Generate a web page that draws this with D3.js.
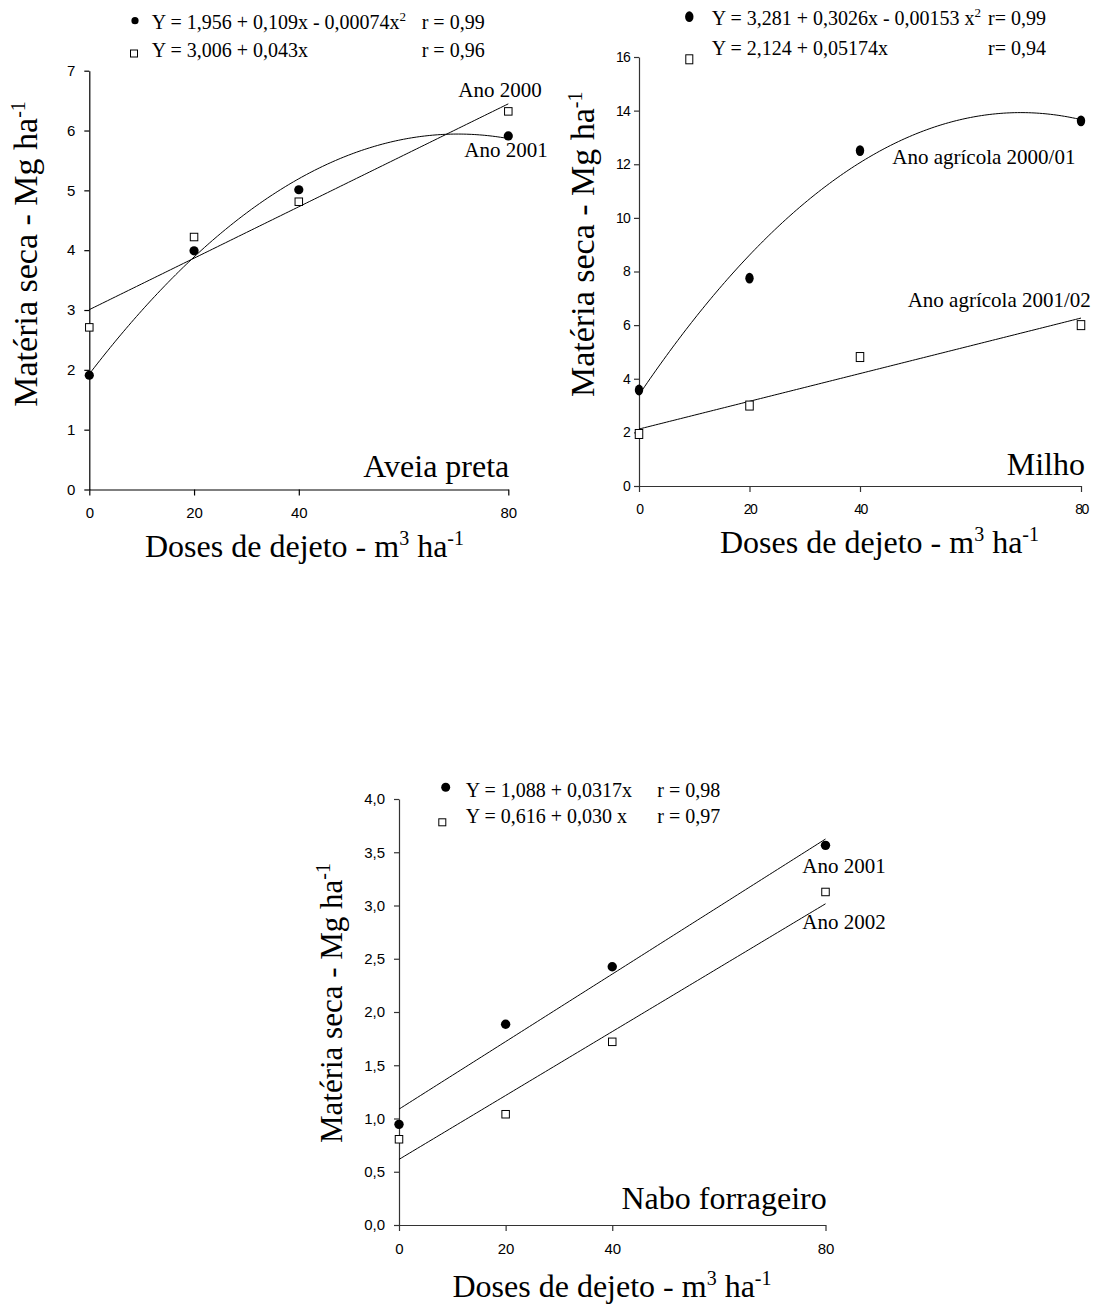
<!DOCTYPE html>
<html><head><meta charset="utf-8">
<script src="https://cdn.jsdelivr.net/npm/d3@7"></script>
<style>
body{margin:0;background:#fff;}
svg text{font-family:"Liberation Serif","Times New Roman",serif;fill:#000;}
svg .tick text{font-family:"Liberation Sans",Arial,sans-serif;}
</style></head>
<body><svg id="c" width="1101" height="1313"></svg>
<script>
// ---------- DATA ----------
const doses = [0, 20, 40, 80];
const xTickValues = [0, 20, 40, 80];

// Aveia preta
const aveiaAno2001 = [1.91, 3.99, 5.01, 5.91];   // filled circles
const aveiaAno2000 = [2.71, 4.22, 4.81, 6.32];   // open squares
const aveiaCurveCoef = [1.93, 0.114, -0.00081];  // drawn quadratic (Ano 2001)
const aveiaLineCoef = [3.006, 0.043];            // Ano 2000
const aveiaYTicks = [0, 1, 2, 3, 4, 5, 6, 7];

// Milho
const milho2000_01 = [3.58, 7.75, 12.51, 13.62]; // filled
const milho2001_02 = [1.94, 3.0, 4.81, 6.0];     // open
const milhoCurveCoef = [3.4, 0.3047, -0.002205];
const milhoLineCoef = [2.124, 0.05174];
const milhoYTicks = [0, 2, 4, 6, 8, 10, 12, 14, 16];

// Nabo forrageiro
const naboAno2001 = [0.945, 1.885, 2.425, 3.565]; // filled
const naboAno2002 = [0.805, 1.04, 1.72, 3.127];   // open
const naboLine2001Coef = [1.088, 0.0317];
const naboLine2002Coef = [0.616, 0.030];
const naboYTicks = [0, 0.5, 1, 1.5, 2, 2.5, 3, 3.5, 4];

// ---------- DRAW ----------
const svg = d3.select('#c');
const xs = d3.range(0, 80.001, 0.5);
const poly = c => x => c.reduce((s, k, i) => s + k * Math.pow(x, i), 0);

function panel(cfg) {
  const x = d3.scaleLinear().domain([0, 80]).range(cfg.xr);
  const y = d3.scaleLinear().domain(cfg.yd).range(cfg.yr);
  const g = svg.append('g');

  const xa = g.append('g').attr('transform', `translate(0,${cfg.yr[0]})`)
    .call(d3.axisBottom(x).tickValues(xTickValues).tickSize(6).tickSizeOuter(0)
      .tickPadding(cfg.xPad).tickFormat(d3.format('d')));
  const ya = g.append('g').attr('transform', `translate(${cfg.xr[0]},0)`)
    .call(d3.axisLeft(y).tickValues(cfg.yTicks).tickSize(5).tickSizeOuter(0)
      .tickPadding(cfg.yPad).tickFormat(cfg.yFmt));
  [xa, ya].forEach(a => {
    a.select('.domain').attr('stroke', cfg.axisColor).attr('stroke-width', 1.2);
    a.selectAll('.tick line').attr('stroke', cfg.axisColor).attr('stroke-width', 1.2);
    a.selectAll('.tick text').attr('font-size', cfg.tickFont).attr('fill', '#000');
  });
  if (cfg.condensed) {
    xa.selectAll('.tick text').attr('letter-spacing', '-1.5px');
    ya.selectAll('.tick text').attr('letter-spacing', '-0.8px');
  }

  const line = d3.line().x(d => x(d[0])).y(d => y(d[1]));
  cfg.fits.forEach(c => {
    const f = poly(c);
    g.append('path').datum(xs.map(v => [v, f(v)])).attr('d', line)
      .attr('fill', 'none').attr('stroke', '#000').attr('stroke-width', 1);
  });

  g.selectAll('rect.o').data(cfg.open).join('rect').attr('class', 'o')
    .attr('x', (d, i) => x(doses[i]) - cfg.sqW / 2)
    .attr('y', d => y(d) - cfg.sqH / 2)
    .attr('width', cfg.sqW).attr('height', cfg.sqH)
    .attr('fill', '#fff').attr('stroke', '#000').attr('stroke-width', 1);
  g.selectAll('ellipse.f').data(cfg.filled).join('ellipse').attr('class', 'f')
    .attr('cx', (d, i) => x(doses[i])).attr('cy', d => y(d))
    .attr('rx', cfg.rx).attr('ry', cfg.ry).attr('fill', '#000');
  return g;
}

const fmtInt = d3.format('d');
const fmtComma = d => d.toFixed(1).replace('.', ',');

panel({xr: [89.3, 508.3], yr: [489.5, 70.7], yd: [0, 7], yTicks: aveiaYTicks, yFmt: fmtInt,
  xPad: 12, yPad: 9, tickFont: 15, axisColor: '#000',
  fits: [aveiaCurveCoef, aveiaLineCoef], open: aveiaAno2000, filled: aveiaAno2001,
  sqW: 7.5, sqH: 7.5, rx: 4.6, ry: 4.6});

panel({xr: [639, 1081], yr: [486, 57], yd: [0, 16], yTicks: milhoYTicks, yFmt: fmtInt,
  xPad: 12, yPad: 4, tickFont: 14, axisColor: '#333', condensed: true,
  fits: [milhoCurveCoef, milhoLineCoef], open: milho2001_02, filled: milho2000_01,
  sqW: 7.5, sqH: 9, rx: 4.2, ry: 5.4});

panel({xr: [399, 825.5], yr: [1225, 799], yd: [0, 4], yTicks: naboYTicks, yFmt: fmtComma,
  xPad: 12, yPad: 9, tickFont: 15, axisColor: '#333',
  fits: [naboLine2001Coef, naboLine2002Coef], open: naboAno2002, filled: naboAno2001,
  sqW: 7.5, sqH: 7.5, rx: 4.7, ry: 4.7});

// ---------- TEXT ----------
function txt(x, y, parts, size, anchor, rot) {
  const t = svg.append('text').attr('font-size', size).attr('text-anchor', anchor || 'start');
  if (rot) t.attr('transform', `translate(${x},${y}) rotate(-90)`);
  else t.attr('x', x).attr('y', y);
  let shift = 0;
  parts.forEach(p => {
    if (typeof p === 'string') {
      const s = t.append('tspan').text(p);
      if (shift) { s.attr('dy', shift); shift = 0; }
    } else {
      t.append('tspan').attr('dy', -p.up - shift).attr('font-size', p.size).text(p.t);
      shift = p.up;
    }
  });
  return t;
}
const sup = (t, size, up) => ({t, size, up});

function legMarkers(dot, sq) {
  svg.append('ellipse').attr('cx', dot[0]).attr('cy', dot[1]).attr('rx', dot[2]).attr('ry', dot[3]).attr('fill', '#000');
  svg.append('rect').attr('x', sq[0] - sq[2] / 2).attr('y', sq[1] - sq[3] / 2).attr('width', sq[2]).attr('height', sq[3])
    .attr('fill', '#fff').attr('stroke', '#000').attr('stroke-width', 1);
}
legMarkers([135, 20.7, 3.6, 3.6], [134, 53.5, 7, 7]);
txt(151.7, 29.3, ['Y = 1,956 + 0,109x - 0,00074x', sup('2', 13, 8)], 20);
txt(421.7, 29.3, ['r = 0,99'], 20);
txt(151.7, 56.7, ['Y = 3,006 + 0,043x'], 20);
txt(421.7, 56.7, ['r = 0,96'], 20);

legMarkers([689.3, 16.7, 4.2, 5.4], [689.3, 59.3, 7, 9]);
txt(711.7, 25, ['Y = 3,281 + 0,3026x - 0,00153 x', sup('2', 13, 8)], 20);
txt(988, 25, ['r= 0,99'], 20);
txt(711.7, 55, ['Y = 2,124 + 0,05174x'], 20);
txt(988, 55, ['r= 0,94'], 20);

legMarkers([445.7, 787.3, 4.5, 4.5], [442.3, 822.3, 7, 7]);
txt(465.7, 797.3, ['Y = 1,088 + 0,0317x'], 20);
txt(657.3, 797.3, ['r = 0,98'], 20);
txt(465.7, 822.7, ['Y = 0,616 + 0,030 x'], 20);
txt(657.3, 822.7, ['r = 0,97'], 20);

// annotations
txt(458.3, 96.7, ['Ano 2000'], 21);
txt(464.3, 156.7, ['Ano 2001'], 21);
txt(892.3, 164.3, ['Ano agrícola 2000/01'], 21);
txt(907.7, 306.7, ['Ano agrícola 2001/02'], 21);
txt(802.3, 872.7, ['Ano 2001'], 21);
txt(802.3, 929.3, ['Ano 2002'], 21);

// panel titles
txt(509.3, 476.7, ['Aveia preta'], 32, 'end');
txt(1085, 475, ['Milho'], 32, 'end');
txt(826.7, 1209, ['Nabo forrageiro'], 32, 'end');

// axis titles
const xTitle = ['Doses de dejeto - m', sup('3', 20, 12), ' ha', sup('-1', 20, 12)];
const yTitle = ['Matéria seca - Mg ha', sup('-1', 20, 12)];
txt(145, 557, xTitle, 32);
txt(720, 553, xTitle, 32);
txt(612, 1297, xTitle, 32, 'middle');
txt(37, 406.7, yTitle, 34, 'start', true);
txt(594, 397, yTitle, 34, 'start', true);
txt(342, 1003, yTitle, 31, 'middle', true);
</script></body></html>
